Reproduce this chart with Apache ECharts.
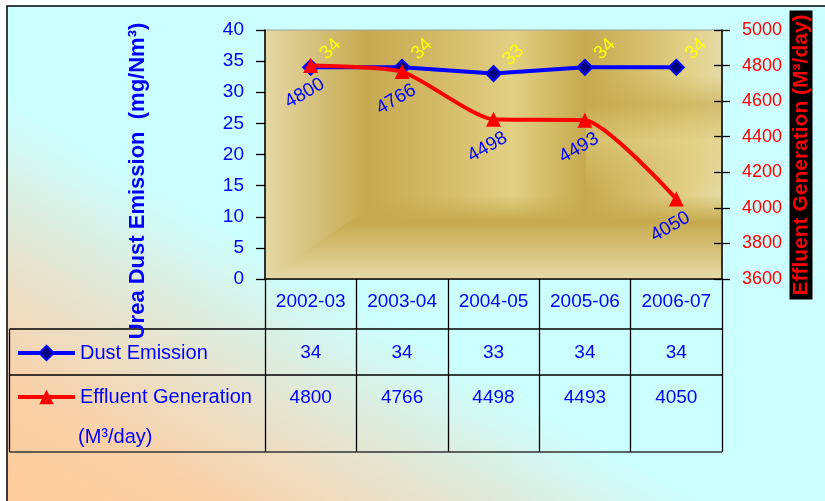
<!DOCTYPE html>
<html><head><meta charset="utf-8">
<script src="https://cdn.jsdelivr.net/npm/echarts@6/dist/echarts.min.js"></script>
<style>html,body{margin:0;padding:0;background:#fff}#c{width:825px;height:501px}</style>
</head><body><div id="c"></div>
<script>
// ---- data ----
const categories = ['2002-03', '2003-04', '2004-05', '2005-06', '2006-07'];
const dustEmission = [34, 34, 33, 34, 34];
const effluentGeneration = [4800, 4766, 4498, 4493, 4050];
const dustTicks = [0, 5, 10, 15, 20, 25, 30, 35, 40];
const effluentTicks = [3600, 3800, 4000, 4200, 4400, 4600, 4800, 5000];
const seriesNames = ['Dust Emission', 'Effluent Generation'];
const effluentUnit = '(M³/day)';
const leftTitle = 'Urea Dust Emission  (mg/Nm³)';
const rightTitle = 'Effluent Generation (M³/day)';

// ---- layout ----
const G = { x: 265, y: 30, w: 457, h: 249 };
const SANS = "'Liberation Sans',Arial,sans-serif";
const BLUE = '#0000FF', RED = '#FF0000';
const TABLE_BOTTOM = 452;

const chart = echarts.init(document.getElementById('c'), null, { renderer: 'canvas' });

function lin(x, y, x2, y2, stops) {
  return { type: 'linear', x, y, x2, y2, global: true,
    colorStops: stops.map(s => ({ offset: s[0], color: s[1] })) };
}

const graphics = [
  // page background + outer frame
  { type: 'rect', z: -30, silent: true,
    shape: { x: 7, y: 6, width: 840, height: 520 },
    style: { fill: lin(7, 510, 184, 203, [[0, '#FFCC99'], [0.3, '#FAD0A6'], [0.6, '#E8E2CC'], [1, '#CCFFFF']]),
             stroke: '#000', lineWidth: 1.5 } },
  // plot area base (gold)
  { type: 'rect', z: -20, silent: true,
    shape: { x: G.x, y: G.y, width: G.w, height: G.h },
    style: { fill: lin(G.x, 0, G.x + G.w, 0, [[0, '#E4D8A6'], [0.22, '#C6AA50'], [0.38, '#D3BA66'], [0.54, '#E2D083'],
      [0.70, '#C6AA4F'], [0.82, '#D5BD6C'], [0.93, '#E2D288'], [1, '#E4DAA6']]),
      stroke: '#a0a0a0', lineWidth: 1 } },
  // lower band
  { type: 'polygon', z: -19, silent: true,
    shape: { points: [[G.x, G.y + G.h], [388, 195], [G.x + G.w, 195], [G.x + G.w, G.y + G.h]] },
    style: { fill: lin(0, 195, 0, G.y + G.h, [[0, 'rgba(199,171,80,0)'], [0.32, 'rgba(198,170,79,1)'], [1, 'rgba(229,218,168,1)']]) } },
  // right upper band
  { type: 'rect', z: -18, silent: true,
    shape: { x: 586, y: 75, width: G.x + G.w - 586, height: 120 },
    style: { fill: lin(0, 75, 0, 195, [[0, 'rgba(200,172,80,0)'], [0.25, 'rgba(198,170,79,0.6)'], [0.55, 'rgba(226,210,132,0.55)'], [1, 'rgba(215,192,110,0)']]) } },
  // table lines
  { type: 'line', z: 10, silent: true, shape: { x1: 9.5, y1: 329, x2: G.x + G.w, y2: 329 }, style: { stroke: '#000', lineWidth: 1.3 } },
  { type: 'line', z: 10, silent: true, shape: { x1: 9.5, y1: 375, x2: G.x + G.w, y2: 375 }, style: { stroke: '#000', lineWidth: 1.3 } },
  { type: 'line', z: 10, silent: true, shape: { x1: 9.5, y1: TABLE_BOTTOM, x2: G.x + G.w, y2: TABLE_BOTTOM }, style: { stroke: '#333', lineWidth: 1.6 } },
  { type: 'line', z: 10, silent: true, shape: { x1: 9.5, y1: 329, x2: 9.5, y2: TABLE_BOTTOM }, style: { stroke: '#000', lineWidth: 1.3 } },
  // titles
  { type: 'text', z: 20, x: 138, y: 181, rotation: Math.PI / 2, silent: true,
    style: { text: leftTitle, fill: BLUE, fontSize: 22, fontWeight: 'bold', fontFamily: SANS, align: 'center', verticalAlign: 'middle' } },
  { type: 'text', z: 20, x: 801, y: 155, rotation: Math.PI / 2, silent: true,
    style: { text: rightTitle, fill: RED, fontSize: 21, fontWeight: 'bold', fontFamily: SANS, align: 'center', verticalAlign: 'middle',
             backgroundColor: '#000', padding: [1, 4, 1, 4] } },
  { type: 'text', z: 20, x: 78, y: 437, silent: true,
    style: { text: effluentUnit, fill: BLUE, fontSize: 20, fontFamily: SANS, align: 'left', verticalAlign: 'middle' } }
];

const catAxisBase = {
  type: 'category', data: categories, gridIndex: 0, position: 'bottom', offset: 0, boundaryGap: true,
  axisLine: { show: false }, axisTick: { show: false }, splitLine: { show: false }
};
const tableText = { interval: 0, color: BLUE, fontSize: 19, fontFamily: SANS };
const effAxisRange = {
  type: 'value', position: 'right', min: effluentTicks[0], max: effluentTicks[effluentTicks.length - 1],
  interval: effluentTicks[1] - effluentTicks[0], splitLine: { show: false }
};

const option = {
  animation: false,
  backgroundColor: '#fff',
  grid: { left: G.x, top: G.y, width: G.w, height: G.h, containLabel: false, outerBoundsMode: 'none' },
  legend: {
    show: true, orient: 'vertical', left: 16, top: 341, padding: 0, itemWidth: 57, itemHeight: 18, itemGap: 20,
    selectedMode: false, data: seriesNames,
    lineStyle: { width: 4 },
    textStyle: { color: BLUE, fontSize: 20, lineHeight: 24, fontFamily: SANS }
  },
  xAxis: [
    Object.assign({}, catAxisBase, {
      axisLine: { show: true, lineStyle: { color: '#000', width: 1.5 } },
      axisTick: { show: true, interval: 0, inside: false, length: TABLE_BOTTOM - (G.y + G.h), lineStyle: { color: '#000', width: 1.3 } },
      axisLabel: Object.assign({}, tableText, { margin: 13 })
    }),
    Object.assign({}, catAxisBase, {
      axisLabel: Object.assign({}, tableText, { margin: 64, formatter: (v, i) => String(dustEmission[i]) })
    }),
    Object.assign({}, catAxisBase, {
      axisLabel: Object.assign({}, tableText, { margin: 109, formatter: (v, i) => String(effluentGeneration[i]) })
    })
  ],
  yAxis: [
    { type: 'value', position: 'left', min: dustTicks[0], max: dustTicks[dustTicks.length - 1], interval: dustTicks[1] - dustTicks[0],
      axisLine: { show: true, lineStyle: { color: '#000', width: 1.5 } },
      axisTick: { show: true, inside: false, length: 9, lineStyle: { color: '#000', width: 1.3 } },
      axisLabel: { color: BLUE, fontSize: 19, fontFamily: SANS, margin: 21, formatter: v => String(v) },
      splitLine: { show: false } },
    Object.assign({}, effAxisRange, {
      axisLine: { show: true, lineStyle: { color: '#000', width: 1.5 } },
      axisTick: { show: true, inside: false, length: 8, lineStyle: { color: '#000', width: 1.3 } },
      axisLabel: { color: RED, fontSize: 18, fontFamily: SANS, margin: 20, formatter: v => String(v) }
    }),
    // inner half of the crossing ticks on the right axis
    Object.assign({}, effAxisRange, {
      axisLine: { show: false },
      axisTick: { show: true, inside: true, length: 8, lineStyle: { color: '#000', width: 1.3 } },
      axisLabel: { show: false }
    })
  ],
  series: [
    { name: seriesNames[0], type: 'line', xAxisIndex: 0, yAxisIndex: 0, data: dustEmission,
      symbol: 'diamond', symbolSize: 15, z: 3,
      itemStyle: { color: '#000080', borderColor: BLUE, borderWidth: 2 },
      lineStyle: { color: BLUE, width: 4 },
      label: { show: true, position: 'inside', rotate: 45, offset: [27, 1], color: '#FFFF00', fontSize: 19, fontFamily: SANS,
               formatter: p => String(p.value) } },
    { name: seriesNames[1], type: 'line', xAxisIndex: 0, yAxisIndex: 1, data: effluentGeneration,
      smooth: 0.2, symbol: 'triangle', symbolSize: 15, z: 4,
      itemStyle: { color: RED },
      lineStyle: { color: RED, width: 4 },
      label: { show: true, position: 'inside', rotate: 30, offset: [-19, 21], color: BLUE, fontSize: 19, fontFamily: SANS,
               formatter: p => String(p.value) } }
  ],
  graphic: { elements: graphics }
};
chart.setOption(option);
</script></body></html>
